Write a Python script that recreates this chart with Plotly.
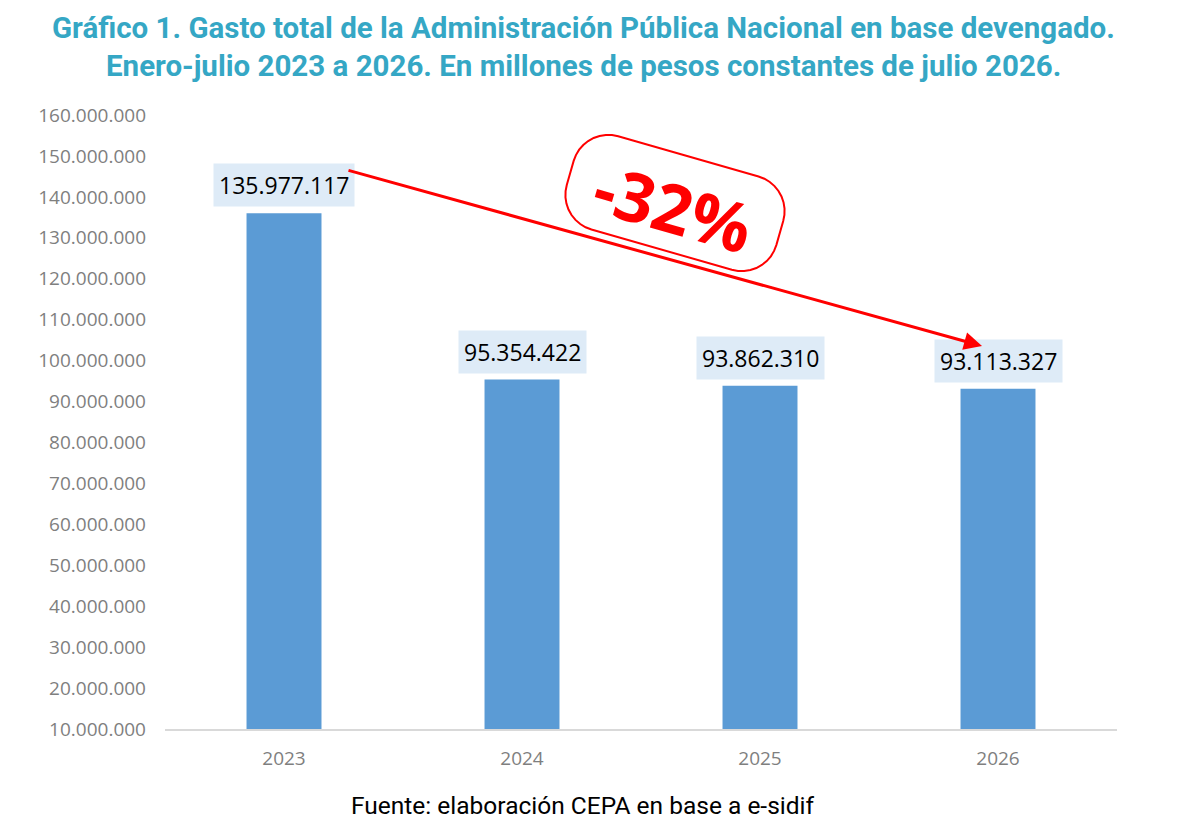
import math
import plotly.graph_objects as go

years = ["2023", "2024", "2025", "2026"]
gasto = [135977117, 95354422, 93862310, 93113327]
y_ticks = list(range(10_000_000, 160_000_001, 10_000_000))

W, H = 1180, 833
OFF = 8  # margen del body en la pagina
L, R, T, B = 165 - OFF, 63 + OFF, 115 - OFF, 104 + OFF
PW, PH = W - L - R, H - T - B


def px(x, y):
    # posicion en pixeles de la pagina -> coords paper
    return (x - OFF - L) / PW, (H - B - (y - OFF)) / PH


def rounded_box(cx, cy, w, h, r, ang):
    a = math.radians(ang)
    pts = []
    corners = [(w / 2 - r, h / 2 - r, 0), (-w / 2 + r, h / 2 - r, 90),
               (-w / 2 + r, -h / 2 + r, 180), (w / 2 - r, -h / 2 + r, 270)]
    for ox, oy, start in corners:
        for k in range(0, 91, 10):
            t = math.radians(start + k)
            x = ox + r * math.cos(t)
            y = oy + r * math.sin(t)
            rx = cx + x * math.cos(a) - y * math.sin(a)
            ry = cy + x * math.sin(a) + y * math.cos(a)
            pts.append(px(rx, ry))
    return "M " + " L ".join(f"{p[0]:.5f},{p[1]:.5f}" for p in pts) + " Z"


def fmt(v):
    return f"{v:,}".replace(",", ".")


fig = go.Figure(go.Bar(
    x=years, y=gasto, width=0.315,
    marker=dict(color="#5b9bd5", line=dict(width=0)),
    hoverinfo="skip",
))

# etiquetas (en eje categorico, x = indice de la categoria)
for i, v in enumerate(gasto):
    fig.add_annotation(
        x=i, y=v, text=fmt(v), showarrow=False, yanchor="bottom", yshift=6,
        font=dict(family="Open Sans", size=23, color="#000000"),
        bgcolor="#deebf7", borderpad=5,
    )

# titulo
for txt, py in [("Gráfico 1. Gasto total de la Administración Pública Nacional en base devengado.", 28),
                ("Enero-julio 2023 a 2026. En millones de pesos constantes de julio 2026.", 66)]:
    fig.add_annotation(
        xref="paper", yref="paper", x=px(583, py)[0], y=px(583, py)[1],
        text=f"<b>{txt}</b>", showarrow=False, xanchor="center", yanchor="middle",
        font=dict(family="Roboto", size=29.5, color="#35a7c5"),
    )

fig.add_annotation(
    xref="paper", yref="paper", x=px(583, 805)[0], y=px(583, 805)[1],
    text="Fuente: elaboración CEPA en base a e-sidif", showarrow=False,
    xanchor="center", yanchor="middle",
    font=dict(family="Roboto", size=24.5, color="#000000"),
)

# flecha
tip = px(982, 346)
fig.add_annotation(
    xref="paper", yref="paper", x=tip[0], y=tip[1], ax=347 - 982, ay=170 - 346,
    text="", showarrow=True, arrowhead=2, arrowsize=1.2, arrowwidth=3,
    arrowcolor="#ff0000",
)

# -32%
fig.add_shape(type="path", xref="paper", yref="paper",
              path=rounded_box(675, 203, 218, 97, 36, 16),
              line=dict(color="#ff0000", width=2), fillcolor="rgba(255,255,255,1)")
c = px(673, 207)
fig.add_annotation(
    xref="paper", yref="paper", x=c[0], y=c[1], text="<b>-32%</b>",
    showarrow=False, textangle=16, xanchor="center", yanchor="middle",
    font=dict(family="Open Sans", size=68, color="#ff0000"),
)

fig.update_layout(
    width=W, height=H,
    margin=dict(l=L, r=R, t=T, b=B),
    paper_bgcolor="white", plot_bgcolor="white",
    separators=",.",
    showlegend=False,
    xaxis=dict(
        type="category",
        showline=True, linecolor="#d9d9d9", linewidth=2, ticks="",
        tickfont=dict(family="Open Sans", size=19, color="#7f7f7f"),
        ticklabelstandoff=11, range=[-0.5, 3.5],
    ),
    yaxis=dict(
        range=[10_000_000, 160_000_000], tickvals=y_ticks, tickformat=",.0f",
        showgrid=False, zeroline=False, showline=False,
        tickfont=dict(family="Open Sans", size=19, color="#7f7f7f"),
        ticklabelstandoff=18,
    ),
)

fig.write_html("out.html")
